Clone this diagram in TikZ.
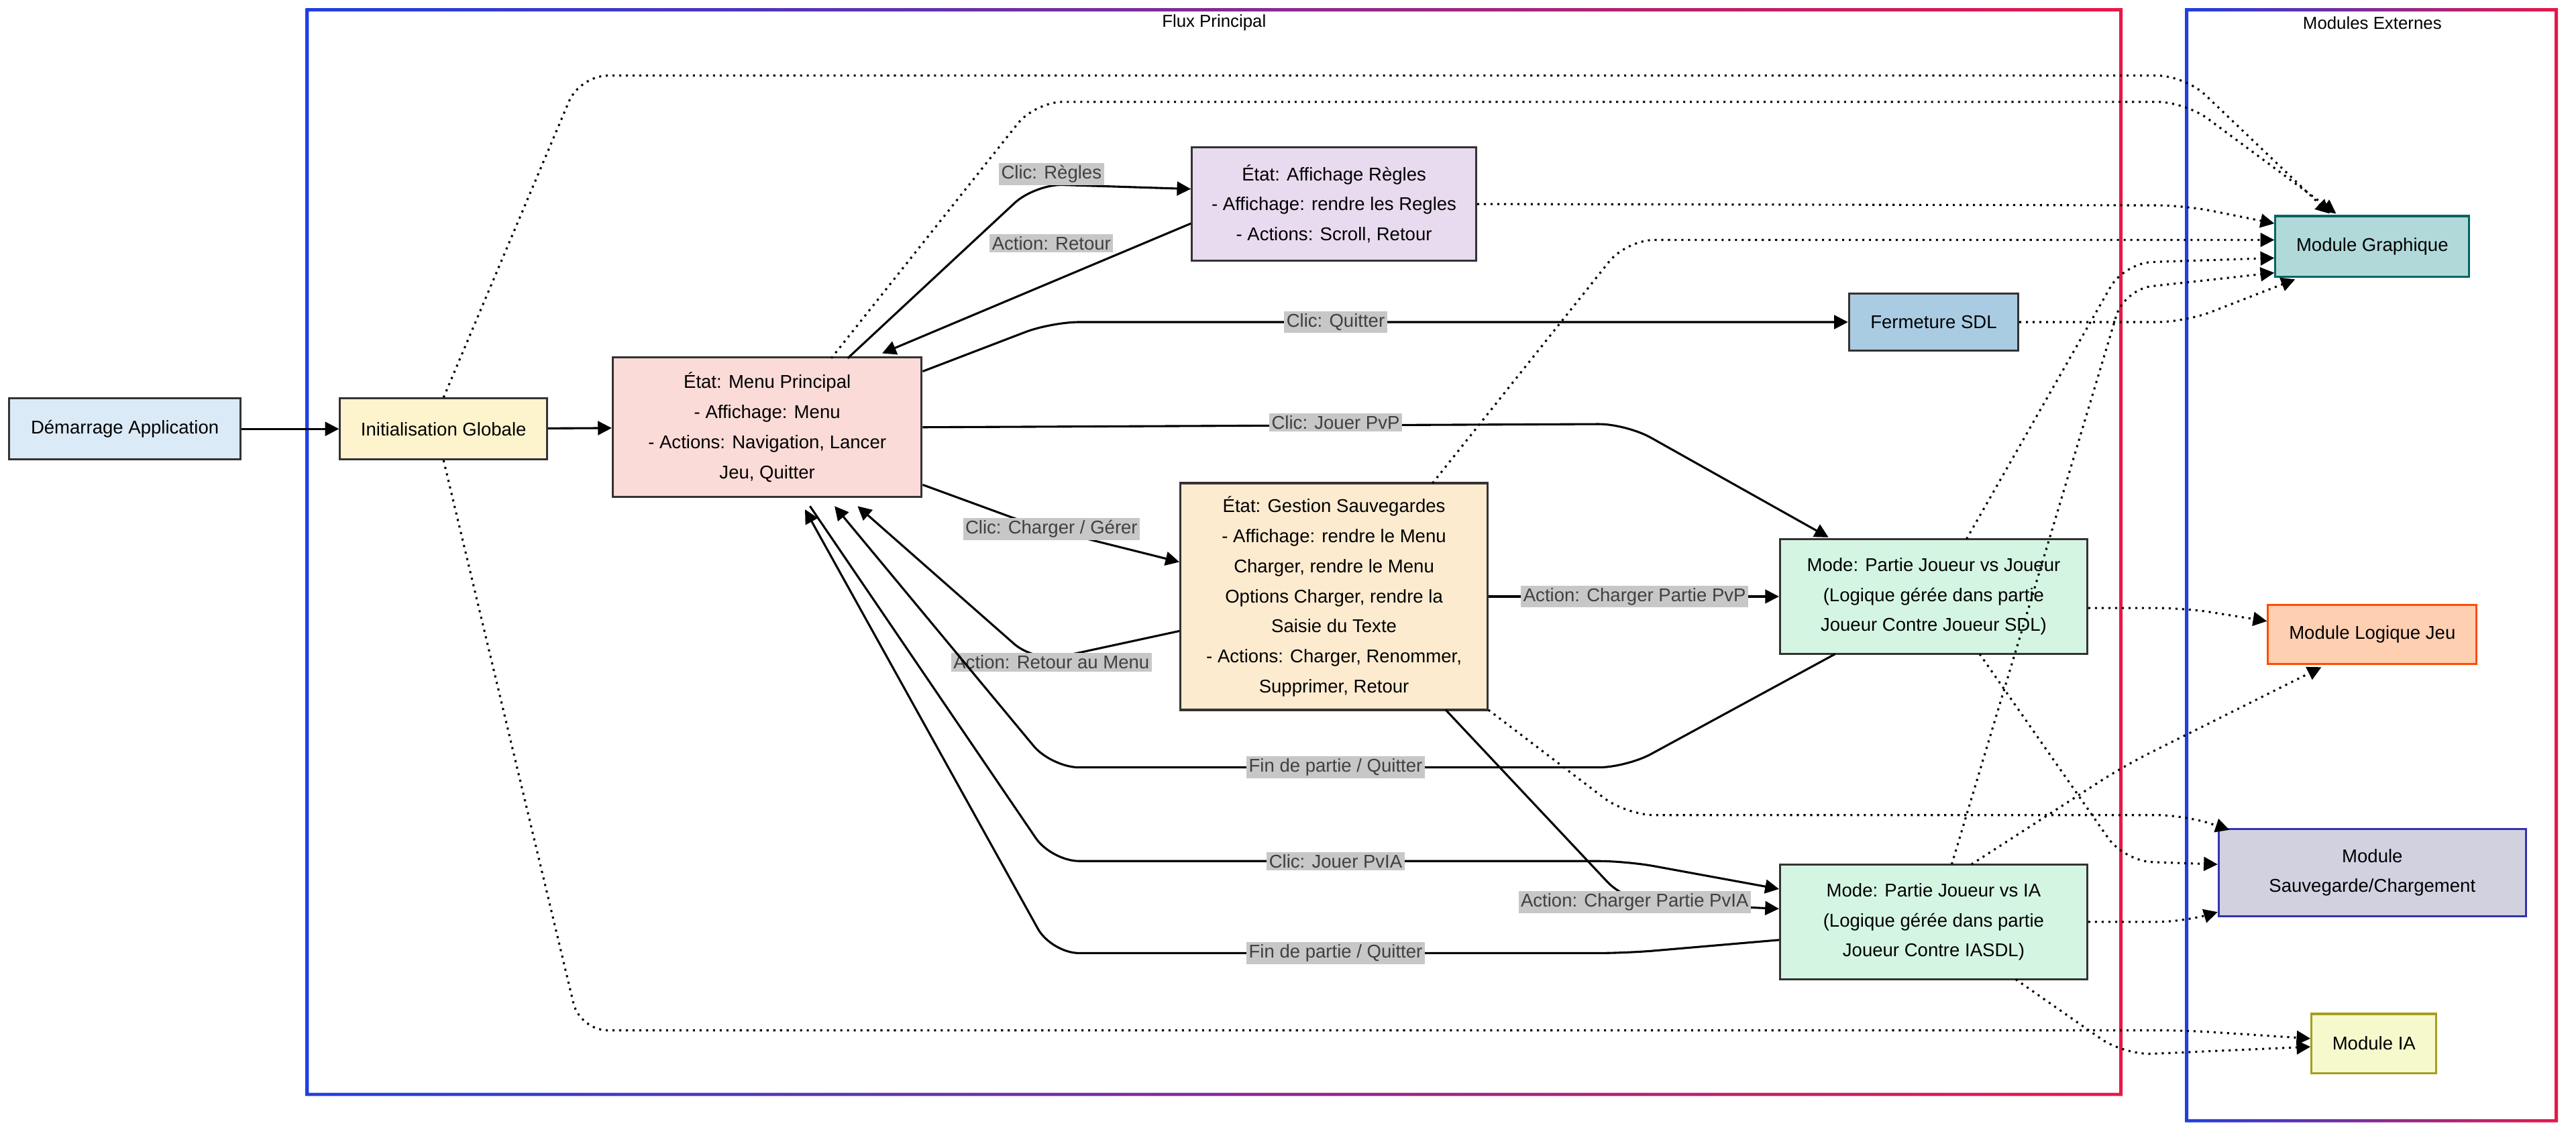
\documentclass[tikz,border=0pt]{standalone}
\usepackage{fontspec}
\setmainfont{Liberation Sans}
\usetikzlibrary{arrows.meta}
\definecolor{cBlue}{HTML}{1F3FE0}
\definecolor{cRed}{HTML}{E8174A}
\definecolor{cStart}{HTML}{DBEAF7}
\definecolor{cInit}{HTML}{FDF3CC}
\definecolor{cMenu}{HTML}{FADBD8}
\definecolor{cRules}{HTML}{E8DAEF}
\definecolor{cQuit}{HTML}{A9CCE3}
\definecolor{cSave}{HTML}{FDEBD0}
\definecolor{cMode}{HTML}{D5F5E3}
\tikzset{
  box/.style={draw=black!80,line width=0.9pt,align=center,font=\fontsize{8}{13}\selectfont,inner sep=0pt},
  lbl/.style={fill=black!22,text=black!75,font=\fontsize{8}{9}\selectfont,inner sep=1pt},
  flow/.style={-{Triangle[length=6pt,width=6pt]},line width=0.9pt,rounded corners=12pt},
  dep/.style={-{Triangle[length=6pt,width=6pt]},line width=0.9pt,dotted,rounded corners=12pt},
  ttl/.style={font=\fontsize{7.5}{9}\selectfont}
}
\begin{document}
\begin{tikzpicture}[x=0.025cm,y=-0.025cm]
  \useasboundingbox (0,0) rectangle (1568,690);
  % clusters
  \shade[left color=cBlue,right color=cRed,even odd rule]
    (186,5) rectangle (1292,667) (188,7) rectangle (1290,665);
  \shade[left color=cBlue,right color=cRed,even odd rule]
    (1330,5) rectangle (1557,683) (1332,7) rectangle (1555,681);
  \node[ttl] (tflux) at (739,14) {Flux Principal};
  \node[ttl] (tmod) at (1444,14) {Modules Externes};

  % nodes
  \node[box,fill=cStart,minimum width=141*0.025cm,minimum height=37*0.025cm] (start) at (76,261) {Démarrage Application};
  \node[box,fill=cInit,minimum width=126*0.025cm,minimum height=37*0.025cm] (init) at (270,261) {Initialisation Globale};
  \node[box,fill=cMenu,minimum width=188*0.025cm,minimum height=85*0.025cm] (menu) at (467,260) {État: Menu Principal\\- Affichage: Menu\\- Actions: Navigation, Lancer\\Jeu, Quitter};
  \node[box,fill=cRules,minimum width=173*0.025cm,minimum height=69*0.025cm] (rules) at (812,124) {État: Affichage Règles\\- Affichage: rendre les Regles\\- Actions: Scroll, Retour};
  \node[box,fill=cQuit,minimum width=103*0.025cm,minimum height=35*0.025cm] (quit) at (1177,196) {Fermeture SDL};
  \node[box,fill=cSave,minimum width=187*0.025cm,minimum height=138*0.025cm] (save) at (812,363) {État: Gestion Sauvegardes\\- Affichage: rendre le Menu\\Charger, rendre le Menu\\Options Charger, rendre la\\Saisie du Texte\\- Actions: Charger, Renommer,\\Supprimer, Retour};
  \node[box,fill=cMode,minimum width=187*0.025cm,minimum height=70*0.025cm] (pvp) at (1177,363) {Mode: Partie Joueur vs Joueur\\(Logique gérée dans partie\\Joueur Contre Joueur SDL)};
  \node[box,fill=cMode,minimum width=187*0.025cm,minimum height=70*0.025cm] (pvia) at (1177,561) {Mode: Partie Joueur vs IA\\(Logique gérée dans partie\\Joueur Contre IASDL)};
  \node[box,draw=teal!80!black,fill=teal!30,minimum width=118*0.025cm,minimum height=37*0.025cm] (graph) at (1444,150) {Module Graphique};
  \node[box,draw=orange!60!red,fill=red!25!orange!30,minimum width=127*0.025cm,minimum height=36*0.025cm] (logic) at (1444,386) {Module Logique Jeu};
  \node[box,draw=blue!60!black!80,fill=blue!20!gray!30,minimum width=187*0.025cm,minimum height=53*0.025cm] (savemod) at (1444,531) {Module\\Sauvegarde/Chargement};
  \node[box,draw=olive!80,fill=yellow!20!lime!20,minimum width=76*0.025cm,minimum height=36*0.025cm] (ia) at (1445,635) {Module IA};

  % main flow
  \draw[flow] (start) -- (init);
  \draw[flow] (init) -- (menu);
  \draw[flow] (516,218) -- (630,112) -- (rules.west|-0,115);
  \node[lbl] (lregles) at (640,106) {Clic: Règles};
  \draw[flow] (rules.west|-0,136) -- (537,215);
  \node[lbl] (lretour) at (640,148) {Action: Retour};
  \draw[flow] (menu.east|-0,226) -- (640,196) -- (quit);
  \node[lbl] (lquit) at (813,196) {Clic: Quitter};
  \draw[flow] (menu.east|-0,260) -- (990,258) -- (1113,327);
  \node[lbl] (lpvp) at (813,257) {Clic: Jouer PvP};
  \draw[flow] (menu.east|-0,295) -- (630,320) -- (save.west|-0,342);
  \node[lbl] (lcharger) at (640,322) {Clic: Charger / Gérer};
  \draw[flow] (save.west|-0,384) -- (630,403) -- (522,308);
  \node[lbl] (lretmenu) at (640,403) {Action: Retour au Menu};
  \draw[flow] (1117,398) -- (990,467) -- (640,467) -- (508,308);
  \node[lbl] (lfin1) at (813,467) {Fin de partie / Quitter};
  \draw[flow] (493,308) -- (640,524) -- (990,524) -- (pvia.west|-0,541);
  \node[lbl] (lpvia) at (813,524) {Clic: Jouer PvIA};
  \draw[flow] (pvia.west|-0,572) -- (990,580) -- (640,580) -- (490,310);
  \node[lbl] (lfin2) at (813,580) {Fin de partie / Quitter};
  \draw[flow] (save) -- (pvp);
  \node[lbl] (lchpvp) at (995,363) {Action: Charger Partie PvP};
  \draw[flow] (880,432) -- (990,549) -- (pvia.west|-0,553);
  \node[lbl] (lchpvia) at (995,549) {Action: Charger Partie PvIA};

  % dependencies
  \draw[dep] (init.north) -- (353,46) -- (1330,46) -- (1418,130);
  \draw[dep] (506,218) -- (630,62) -- (1330,62) -- (1422,130);
  \draw[dep] (rules) -- (1330,125) -- (graph.west|-0,136);
  \draw[dep] (872,294) -- (990,146) -- (graph.west|-0,146);
  \draw[dep] (quit) -- (1330,196) -- (1397,170);
  \draw[dep] (1197,328) -- (1293,160) -- (graph.west|-0,157);
  \draw[dep] (1188,526) -- (1293,176) -- (graph.west|-0,166);
  \draw[dep] (pvp.east|-0,370) -- (1330,370) -- (logic.west|-0,378);
  \draw[dep] (1200,526) -- (1293,466) -- (1413,406);
  \draw[dep] (1205,398) -- (1293,524) -- (savemod.west|-0,526);
  \draw[dep] (906,432) -- (990,496) -- (1330,496) -- (1357,505);
  \draw[dep] (pvia.east|-0,561) -- (1330,561) -- (savemod.west|-0,555);
  \draw[dep] (1227,596) -- (1293,642) -- (ia.west|-0,637);
  \draw[dep] (init.south) -- (353,627) -- (1330,627) -- (ia.west|-0,632);
\end{tikzpicture}
\end{document}
